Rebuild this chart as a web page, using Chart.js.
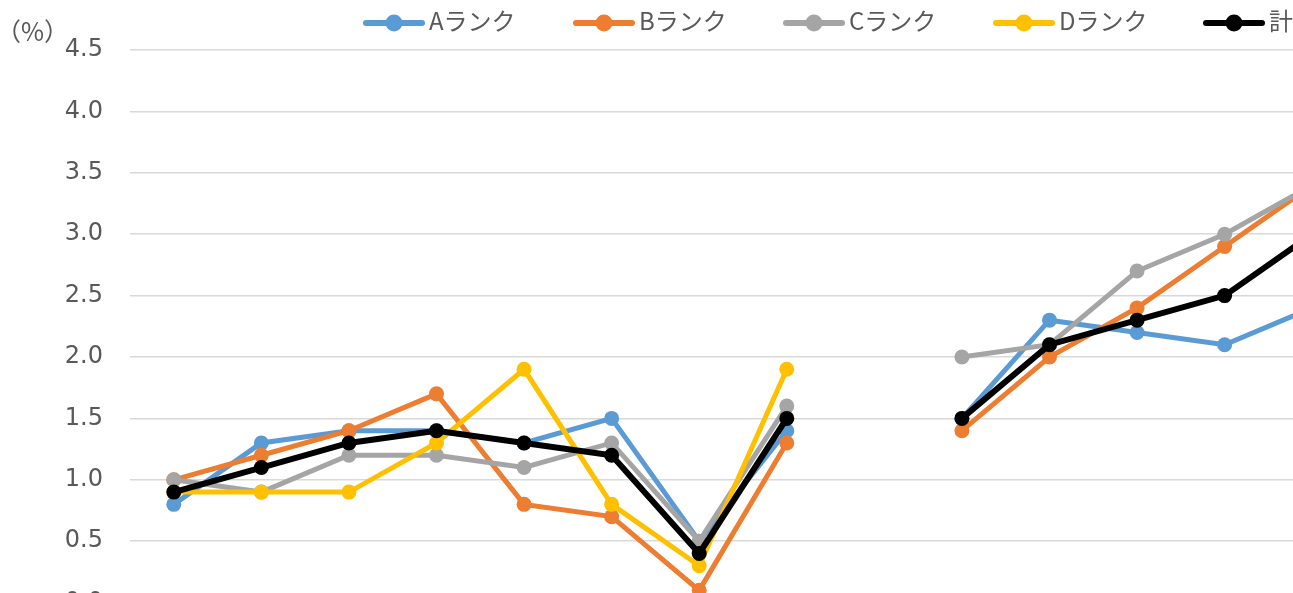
<!DOCTYPE html>
<html>
<head>
<meta charset="utf-8">
<script src="https://cdn.jsdelivr.net/npm/chart.js@4"></script>
<style>
  html, body { margin: 0; padding: 0; background: #fff; overflow: hidden; }
  #wrap { width: 1293px; height: 593px; overflow: hidden; }
  canvas { display: block; }
</style>
</head>
<body>
<div id="wrap"><canvas id="chart" width="1370" height="644"></canvas></div>
<script>
// categories (the axis labels are below the visible area)
const categories = ["1", "2", "3", "4", "5", "6", "7", "8", "", "9", "10", "11", "12", "13"];

// values in %, null = gap
const rankA = [0.8, 1.3, 1.4, 1.4, 1.3, 1.5, 0.5, 1.4, null, 1.5, 2.3, 2.2, 2.1, 2.4];
const rankB = [1.0, 1.2, 1.4, 1.7, 0.8, 0.7, 0.1, 1.3, null, 1.4, 2.0, 2.4, 2.9, 3.4];
const rankC = [1.0, 0.9, 1.2, 1.2, 1.1, 1.3, 0.5, 1.6, null, 2.0, 2.1, 2.7, 3.0, 3.4];
const rankD = [0.9, 0.9, 0.9, 1.3, 1.9, 0.8, 0.3, 1.9, null, null, null, null, null, null];
const total = [0.9, 1.1, 1.3, 1.4, 1.3, 1.2, 0.4, 1.5, null, 1.5, 2.1, 2.3, 2.5, 3.0];

const seriesNames = ["Aランク", "Bランク", "Cランク", "Dランク", "計"];
const seriesColors = ["#5B9BD5", "#ED7D31", "#A5A5A5", "#FFC000", "#000000"];
const seriesData = [rankA, rankB, rankC, rankD, total];

const yTicks = [0, 0.5, 1.0, 1.5, 2.0, 2.5, 3.0, 3.5, 4.0, 4.5];

const textColor = "#595959";

function makeDataset(i) {
  const isTotal = i === 4;
  return {
    label: seriesNames[i],
    data: seriesData[i],
    borderColor: seriesColors[i],
    backgroundColor: seriesColors[i],
    pointBackgroundColor: seriesColors[i],
    pointBorderColor: seriesColors[i],
    pointBorderWidth: 0,
    pointRadius: 7.5,
    borderWidth: isTotal ? 6 : 5,
    spanGaps: false,
    order: 4 - i
  };
}

// legend + unit label drawn by hand (line with a dot in the middle, like Excel)
const legendPlugin = {
  id: "excelLegend",
  afterDraw(chart) {
    const ctx = chart.ctx;
    ctx.save();
    ctx.fillStyle = textColor;
    ctx.font = '25px "Noto Sans CJK JP"';
    ctx.textBaseline = "middle";
    ctx.textAlign = "left";
    ctx.fillText("（%）", -4, 31);

    const startX = 366;
    const pitch = 210;
    ctx.font = '24px "Noto Sans CJK JP", "DejaVu Sans"';
    for (let i = 0; i < chart.data.datasets.length; i++) {
      const ds = chart.data.datasets[i];
      const x = startX + i * pitch;
      ctx.strokeStyle = ds.borderColor;
      ctx.lineWidth = 6;
      ctx.lineCap = "round";
      ctx.beginPath();
      ctx.moveTo(x, 23);
      ctx.lineTo(x + 56, 23);
      ctx.stroke();
      ctx.fillStyle = ds.borderColor;
      ctx.beginPath();
      ctx.arc(x + 28, 23, 8.5, 0, Math.PI * 2);
      ctx.fill();
      ctx.fillStyle = textColor;
      ctx.fillText(ds.label, x + 63, 21);
    }
    ctx.restore();
  }
};

new Chart(document.getElementById("chart"), {
  type: "line",
  data: {
    labels: categories,
    datasets: seriesData.map((d, i) => makeDataset(i))
  },
  options: {
    responsive: false,
    animation: false,
    layout: { padding: { top: 50, right: 14, bottom: 28, left: 0 } },
    plugins: {
      legend: { display: false },
      tooltip: { enabled: false }
    },
    scales: {
      x: {
        display: false,
        offset: true,
        grid: { display: false }
      },
      y: {
        min: 0,
        max: 4.5,
        afterBuildTicks: scale => { scale.ticks = yTicks.map(v => ({ value: v })); },
        afterFit: scale => { scale.width = 130; },
        border: { display: false },
        grid: { color: "#d9d9d9", lineWidth: 1.5, drawTicks: false },
        ticks: {
          padding: 27,
          color: textColor,
          font: { family: '"DejaVu Sans"', size: 24 },
          callback: v => v.toFixed(1)
        }
      }
    }
  },
  plugins: [legendPlugin]
});
</script>
</body>
</html>
